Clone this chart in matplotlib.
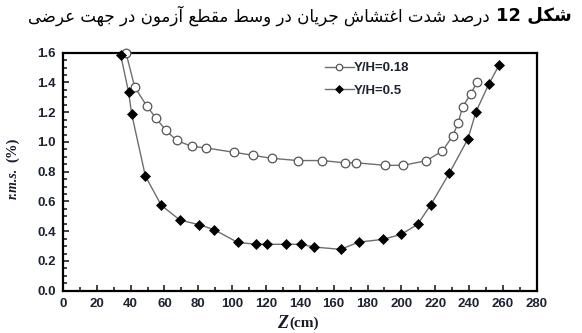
import re
import matplotlib
matplotlib.use("Agg")
import matplotlib.pyplot as plt
from matplotlib.ticker import MultipleLocator

# ---- data -------------------------------------------------------------
z_018 = [37.2, 42.4, 49.6, 55.0, 60.7, 67.2, 76.2, 84.5, 101.3, 112.5, 123.3,
         139.0, 152.9, 166.7, 173.2, 190.5, 201.0, 214.8, 224.3, 230.3, 233.5,
         236.2, 241.0, 244.7]
rms_018 = [1.60, 1.37, 1.24, 1.16, 1.08, 1.01, 0.97, 0.96, 0.93, 0.91, 0.89,
           0.875, 0.875, 0.86, 0.86, 0.843, 0.843, 0.874, 0.94, 1.04, 1.125,
           1.237, 1.322, 1.403]

z_05 = [34.1, 38.8, 40.6, 48.7, 58.1, 69.1, 80.4, 89.4, 103.2, 114.3, 120.4,
        131.7, 140.8, 148.1, 164.1, 174.9, 189.1, 199.9, 209.6, 217.3, 228.3,
        239.4, 244.1, 251.6, 257.9]
rms_05 = [1.585, 1.334, 1.188, 0.771, 0.574, 0.475, 0.444, 0.410, 0.325, 0.312,
          0.312, 0.312, 0.312, 0.294, 0.278, 0.327, 0.345, 0.379, 0.446, 0.576,
          0.789, 1.022, 1.203, 1.387, 1.519]

series_labels = ["Y/H=0.18", "Y/H=0.5"]
x_ticks = list(range(0, 281, 20))
y_ticks = [0.0, 0.2, 0.4, 0.6, 0.8, 1.0, 1.2, 1.4, 1.6]

title_bold = "شکل 12"
title_rest = "درصد شدت اغتشاش جریان در وسط مقطع آزمون در جهت عرضی"

# ---- minimal Persian shaping (presentation forms + RTL order) ----------
FORMS = {
    "ا": ("\uFE8D", "\uFE8E"), "آ": ("\uFE81", "\uFE82"),
    "د": ("\uFEA9", "\uFEAA"), "ر": ("\uFEAD", "\uFEAE"),
    "ز": ("\uFEAF", "\uFEB0"), "و": ("\uFEED", "\uFEEE"),
    "ت": ("\uFE95", "\uFE96", "\uFE97", "\uFE98"),
    "ج": ("\uFE9D", "\uFE9E", "\uFE9F", "\uFEA0"),
    "س": ("\uFEB1", "\uFEB2", "\uFEB3", "\uFEB4"),
    "ش": ("\uFEB5", "\uFEB6", "\uFEB7", "\uFEB8"),
    "ص": ("\uFEB9", "\uFEBA", "\uFEBB", "\uFEBC"),
    "ض": ("\uFEBD", "\uFEBE", "\uFEBF", "\uFEC0"),
    "ط": ("\uFEC1", "\uFEC2", "\uFEC3", "\uFEC4"),
    "ع": ("\uFEC9", "\uFECA", "\uFECB", "\uFECC"),
    "غ": ("\uFECD", "\uFECE", "\uFECF", "\uFED0"),
    "ق": ("\uFED5", "\uFED6", "\uFED7", "\uFED8"),
    "ل": ("\uFEDD", "\uFEDE", "\uFEDF", "\uFEE0"),
    "م": ("\uFEE1", "\uFEE2", "\uFEE3", "\uFEE4"),
    "ن": ("\uFEE5", "\uFEE6", "\uFEE7", "\uFEE8"),
    "ه": ("\uFEE9", "\uFEEA", "\uFEEB", "\uFEEC"),
    "ک": ("\uFB8E", "\uFB8F", "\uFB90", "\uFB91"),
    "ی": ("\uFBFC", "\uFBFD", "\uFBFE", "\uFBFF"),
}


def shape_rtl(text):
    out = []
    for i, c in enumerate(text):
        f = FORMS.get(c)
        if f is None:
            out.append(c)
            continue
        prev = text[i - 1] if i > 0 else None
        nxt = text[i + 1] if i + 1 < len(text) else None
        jp = prev in FORMS and len(FORMS[prev]) == 4
        jn = len(f) == 4 and nxt in FORMS
        if jp and jn:
            out.append(f[3])
        elif jp:
            out.append(f[1])
        elif jn:
            out.append(f[2])
        else:
            out.append(f[0])
    vis = "".join(out)[::-1]
    # digits keep left-to-right order
    return re.sub(r"[0-9]+", lambda m: m.group(0)[::-1], vis)


# ---- figure -------------------------------------------------------------
fig = plt.figure(figsize=(5.82, 3.33), dpi=100)
ax = fig.add_axes([0.1082, 0.127, 0.814, 0.7147])

line_col = "#6e6e6e"
ax.plot(z_018, rms_018, color=line_col, lw=1.0, marker="o", ms=6.2,
        mfc="white", mec="#555555", mew=0.9, clip_on=False, zorder=3,
        label=series_labels[0])
ax.plot(z_05, rms_05, color=line_col, lw=1.0, marker="D", ms=5.2,
        mfc="black", mec="black", mew=0.5, clip_on=False, zorder=3,
        label=series_labels[1])

ax.set_xlim(0, 280)
ax.set_ylim(0, 1.6)
ax.set_xticks(x_ticks)
ax.set_yticks(y_ticks)
ax.set_yticklabels([f"{v:.1f}" for v in y_ticks])
ax.xaxis.set_minor_locator(MultipleLocator(10))
ax.yaxis.set_minor_locator(MultipleLocator(0.05))
ax.tick_params(which="both", direction="in", width=1.2, color="#222222",
               top=False, right=False)
ax.tick_params(which="major", length=4, pad=5)
ax.tick_params(which="minor", length=3)
tick_col = "#1c2333"
for lab in ax.get_xticklabels() + ax.get_yticklabels():
    lab.set_fontfamily("Liberation Sans")
    lab.set_fontweight("bold")
    lab.set_fontsize(9.5)
    lab.set_color(tick_col)
for sp in ax.spines.values():
    sp.set_linewidth(1.6)
    sp.set_color("black")

leg = ax.legend(loc="upper left", bbox_to_anchor=(0.527, 1.01), frameon=False,
                handlelength=2.2, handletextpad=0.05, labelspacing=0.75,
                markerscale=0.75,
                prop={"family": "Liberation Sans", "weight": "bold", "size": 9.5})
for t in leg.get_texts():
    t.set_color(tick_col)

# axis labels
ylab = fig.text(0.022, 0.45, "r.m.s.", rotation=90, ha="center", va="center",
                fontfamily="Liberation Serif", fontstyle="italic",
                fontweight="bold", fontsize=10, color="#1a1a2a")
ax.annotate("(%)", xy=(0.5, 1.0), xycoords=ylab, xytext=(0, 4),
            textcoords="offset points", rotation=90, ha="center", va="bottom",
            fontfamily="Liberation Serif", fontweight="bold", fontsize=10.5,
            color="#1a1a2a")

zlab = fig.text(0.495, 0.030, "Z", ha="right", va="center",
                fontfamily="Liberation Serif", fontstyle="italic",
                fontweight="bold", fontsize=13, color="#1a1a2a")
ax.annotate("(cm)", xy=(1.0, 0.5), xycoords=zlab, xytext=(1, -0.5),
            textcoords="offset points", ha="left", va="center",
            fontfamily="Liberation Serif", fontweight="bold", fontsize=11,
            color="#1a1a2a")

# title
tb = fig.text(0.982, 0.952, shape_rtl(title_bold), ha="right", va="center",
              fontfamily="DejaVu Sans", fontweight="bold", fontsize=13,
              color="black")
ax.annotate(shape_rtl(title_rest), xy=(0.0, 0.5), xycoords=tb,
            xytext=(-4, 0), textcoords="offset points", ha="right",
            va="center", fontfamily="DejaVu Sans", fontsize=12,
            color="black", annotation_clip=False)

fig.savefig("out.png", dpi=100)
